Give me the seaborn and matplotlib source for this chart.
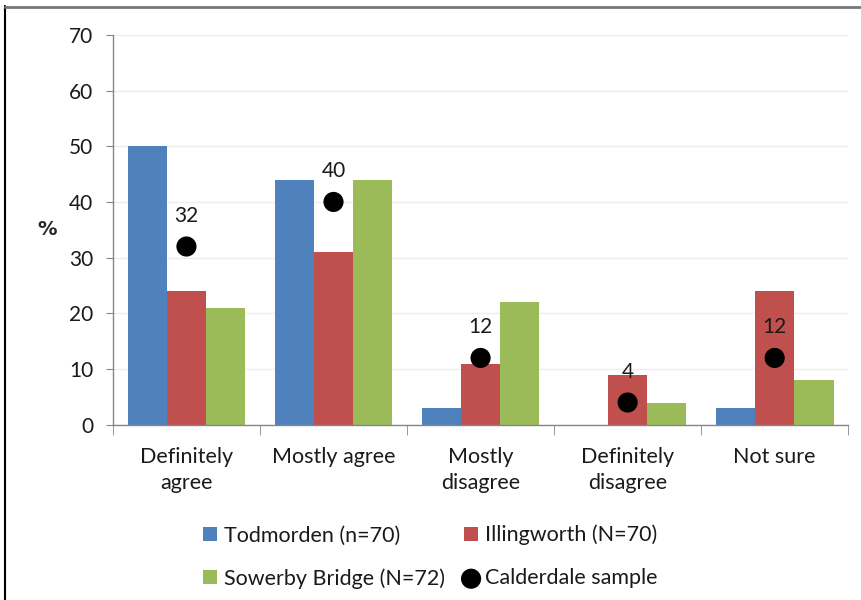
import numpy as np
import pandas as pd
import matplotlib.pyplot as plt
from matplotlib.lines import Line2D
import seaborn as sns

categories = ["Definitely\nagree", "Mostly agree", "Mostly\ndisagree", "Definitely\ndisagree", "Not sure"]
todmorden = [50, 44, 3, 0, 3]
illingworth = [24, 31, 11, 9, 24]
sowerby = [21, 44, 22, 4, 8]
calderdale = [32, 40, 12, 4, 12]
series_names = ["Todmorden (n=70)", "Illingworth (N=70)", "Sowerby Bridge (N=72)"]
dot_name = "Calderdale sample"
y_ticks = [0, 10, 20, 30, 40, 50, 60, 70]

colors = ["#4F81BD", "#C0504D", "#9BBB59"]

df = pd.DataFrame({
    "category": categories * 3,
    "value": todmorden + illingworth + sowerby,
    "site": [series_names[0]] * 5 + [series_names[1]] * 5 + [series_names[2]] * 5,
})

sns.set_style("white")
plt.rcParams["font.family"] = ["Lato", "DejaVu Sans"]

fig = plt.figure(figsize=(8.62, 6), dpi=100)
ax = fig.add_axes([0.131, 0.292, 0.853, 0.65])

sns.barplot(data=df, x="category", y="value", hue="site", palette=colors,
            width=0.8, gap=0, saturation=1, linewidth=0, ax=ax)
sns.scatterplot(x=categories, y=calderdale, color="black", s=210,
                edgecolor="none", label=dot_name, ax=ax, zorder=5)

for i, v in enumerate(calderdale):
    ax.annotate(str(v), (i, v), xytext=(0, 22), textcoords="offset points",
                ha="center", va="center", fontsize=15, color="#1a1a1a", zorder=6)

ax.set_xlim(-0.5, 4.5)
ax.set_ylim(0, 70)
ax.set_yticks(y_ticks)
ax.yaxis.grid(True, color="#EDEDED", linewidth=1)
ax.set_axisbelow(True)
for s in ["top", "right"]:
    ax.spines[s].set_visible(False)
for s in ["left", "bottom"]:
    ax.spines[s].set_color("#868686")
    ax.spines[s].set_linewidth(1)

ax.tick_params(axis="y", which="major", left=True, length=5, color="#868686",
               pad=9, labelsize=15, labelcolor="#1a1a1a")
ax.tick_params(axis="x", which="major", length=0, pad=16, labelsize=15.5, labelcolor="#1a1a1a")
for lab in ax.get_xticklabels():
    lab.set_linespacing(1.35)
ax.set_xticks(np.arange(-0.5, 5, 1), minor=True)
ax.tick_params(axis="x", which="minor", bottom=True, length=7, color="#868686")

ax.set_xlabel("")
ax.set_ylabel("%", rotation=0, fontsize=14, fontweight="bold", family="DejaVu Sans",
              labelpad=16, va="center")

handles, labels = ax.get_legend_handles_labels()
ax.get_legend().remove()
order = [0, 2, 1, 3]
fig.legend([handles[i] for i in order], [labels[i] for i in order],
           loc="center", bbox_to_anchor=(0.499, 0.072), ncol=2, frameon=False,
           fontsize=15.5, handlelength=0.65, handleheight=0.65, handletextpad=0.3,
           columnspacing=0.9, labelspacing=1.05, labelcolor="#1a1a1a")

fig.add_artist(Line2D([0.006, 0.006], [0, 0.99], color="black", lw=1.5))
fig.add_artist(Line2D([0.006, 1.0], [0.988, 0.988], color="#777777", lw=2))

fig.savefig("out.png", dpi=100)
